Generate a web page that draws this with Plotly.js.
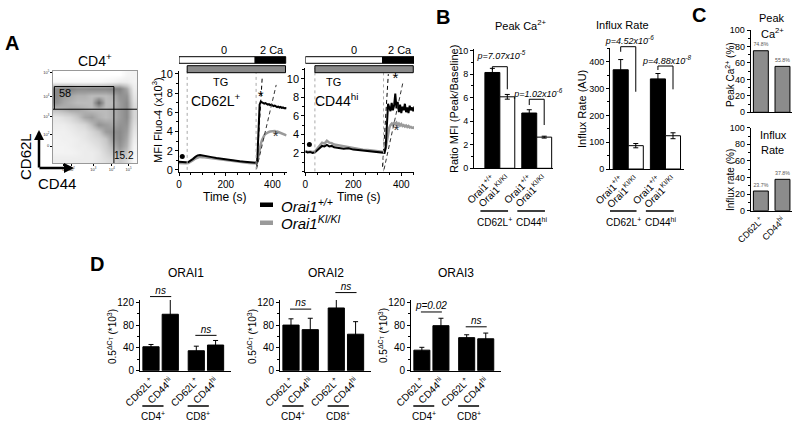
<!DOCTYPE html>
<html><head><meta charset="utf-8">
<script src="https://cdn.plot.ly/plotly-3.0.1.min.js"></script>
<style>html,body{margin:0;padding:0;background:#fff}#chart{width:800px;height:425px}</style>
</head><body><div id="chart"></div>
<script>
// ---------------- DATA ----------------
// Panel A: flow density (gray levels, rows top->bottom)
const flowZ = [
 [0,0,0,0,0,0,0,0,0,0,0.08,0.1],
 [0.05,0.05,0.05,0.05,0.05,0.05,0.05,0.08,0.1,0.15,0.15,0.1],
 [0.7,0.75,0.75,0.7,0.7,0.72,0.72,0.72,0.75,0.75,0.55,0.15],
 [0.7,0.6,0.55,0.5,0.5,0.45,0.45,0.45,0.5,0.65,0.65,0.2],
 [0.65,0.55,0.5,0.45,0.45,0.45,0.9,0.45,0.45,0.6,0.7,0.25],
 [0.45,0.5,0.55,0.55,0.5,0.45,0.45,0.45,0.5,0.6,0.7,0.3],
 [0.2,0.25,0.3,0.4,0.55,0.6,0.5,0.45,0.5,0.6,0.7,0.3],
 [0.15,0.15,0.2,0.25,0.3,0.45,0.65,0.6,0.55,0.65,0.65,0.25],
 [0.12,0.12,0.15,0.2,0.22,0.3,0.4,0.6,0.65,0.7,0.6,0.2],
 [0.1,0.12,0.12,0.15,0.2,0.25,0.3,0.4,0.6,0.7,0.55,0.15],
 [0.1,0.1,0.12,0.15,0.15,0.2,0.25,0.35,0.5,0.65,0.5,0.1],
 [0.1,0.1,0.1,0.12,0.15,0.15,0.2,0.3,0.4,0.55,0.4,0.08],
 [0.15,0.15,0.15,0.15,0.15,0.15,0.2,0.25,0.3,0.4,0.3,0.05]
];
const flowGateCD44 = 8.2, flowGateCD62L = 4.9, flowGateTop = 1.7, flowGateLeft = -0.3;
const flowPct = ['58', '15.2'];
const flowXTickVals = [0.97, 2.17, 5.26, 7.9, 10.3];
const flowXTickText = ['0','10<sup>2</sup>','10<sup>3</sup>','10<sup>4</sup>','10<sup>5</sup>'];
const flowYTickVals = [10.1, 8.5, 5.9, 3.1, -0.3];
const flowYTickText = ['0','10<sup>2</sup>','10<sup>3</sup>','10<sup>4</sup>','10<sup>5</sup>'];

// Panel A: Fluo-4 traces (time in s, MFI x10^3)
const timeS = [0,10,20,30,40,50,60,70,80,90,100,110,120,140,160,180,200,220,240,260,280,300,320,330,
  335,340,345,350,355,360,365,370,375,380,385,390,395,400,405,410,415,420,425,430,435,440,445,450,455,460];
const cd62lWT = [0.85,0.82,0.8,0.8,0.82,0.95,1.15,1.35,1.5,1.55,1.52,1.47,1.42,
  1.33,1.24,1.16,1.08,1.01,0.95,0.9,0.85,0.8,0.76,0.74,
  0.95,4.6,6.8,7.1,7.0,6.95,6.9,6.95,6.85,6.8,6.85,6.75,6.8,6.7,6.65,6.7,6.6,6.55,6.6,6.5,6.55,6.45,6.5,6.42,6.45,6.4];
const cd62lKI = [0.72,0.7,0.7,0.7,0.72,0.82,1.0,1.18,1.3,1.35,1.33,1.3,1.26,
  1.18,1.1,1.03,0.97,0.91,0.86,0.81,0.77,0.73,0.7,0.68,
  0.8,1.6,2.2,2.7,3.1,3.4,3.6,3.75,3.85,3.9,3.95,4.0,4.0,4.05,4.0,4.05,3.95,4.0,3.95,3.9,3.9,3.85,3.8,3.75,3.7,3.6];
const cd44WT = [2.15,2.05,2.1,2.0,2.05,2.3,2.55,2.75,2.7,2.85,2.7,2.75,2.6,
  2.55,2.45,2.5,2.35,2.3,2.25,2.2,2.15,2.1,2.05,2.0,
  2.6,5.6,7.3,6.9,6.5,7.4,6.6,7.1,8.4,6.8,7.5,6.4,7.2,6.3,7.0,6.6,7.3,6.4,6.9,6.3,7.1,6.6,6.9,6.5,7.0,6.7];
const cd44KI = [2.2,2.1,2.15,2.1,2.15,2.5,2.8,3.1,3.0,3.3,3.1,3.05,2.9,
  2.8,2.7,2.6,2.5,2.45,2.35,2.3,2.25,2.2,2.15,2.1,
  2.5,3.4,4.2,4.7,5.0,5.15,5.0,5.3,5.1,5.25,5.0,5.15,4.95,5.1,4.9,5.0,4.85,4.95,4.8,4.9,4.75,4.8,4.7,4.75,4.65,4.7];
// influx-rate fit lines [t0,t1],[y0,y1]
const fit62WT_t = [333, 356], fit62WT_y = [0.35, 9.55];
const fit62KI_t = [332, 416], fit62KI_y = [0.1, 8.85];
const fit44WT_t = [322, 346], fit44WT_y = [0.5, 10.5];
const fit44KI_t = [328, 406], fit44KI_y = [0.2, 9.5];
const dot62 = [14, 1.4], dot44 = [17, 2.9];
const star62_t = [350, 414], star62_y = [7.6, 3.4];
const star44_t = [376, 380], star44_y = [9.9, 4.3];
// solution bars: [0 Ca start, 2 Ca start, end], TG [start, end]
const sol62 = [0, 326, 457], tg62 = [35, 456];
const sol44 = [0, 322, 453], tg44 = [40, 450];
const solLabels = ['0', '2 Ca'];
const legendNames = ['<i>Orai1<sup>+/+</sup></i>', '<i>Orai1<sup>KI/KI</sup></i>'];

// Panel B
const genoLabels = ['Orai1<sup>+/+</sup>','Orai1<sup>KI/KI</sup>','Orai1<sup>+/+</sup>','Orai1<sup>KI/KI</sup>'];
const subsetLabels = ['CD62L<sup>+</sup>', 'CD44<sup>hi</sup>'];
const peakRatio = [8.15, 6.08, 4.7, 2.65];
const peakErr = [0.35, 0.2, 0.28, 0.08];
const influxRate = [370, 87, 336, 124];
const influxErr = [38, 8, 20, 11];
const peakP = ['p=7.07x10<sup>-5</sup>', 'p=1.02x10<sup>-6</sup>'];
const influxP = ['p=4.52x10<sup>-6</sup>', 'p=4.88x10<sup>-8</sup>'];
// bracket levels [top, left leg bottom, right leg bottom]
const peakBrk = [[8.64, 8.36, 6.72], [5.87, 5.38, 3.68]];
const influxBrk = [[456, 437, 288], [384, 369, 297]];

// Panel C
const cCats = ['CD62L<sup>+</sup>', 'CD44<sup>hi</sup>'];
const cPeak = [74.8, 55.8];
const cInflux = [23.7, 37.8];

// Panel D
const dCats = ['CD62L<sup>+</sup>','CD44<sup>hi</sup>','CD62L<sup>+</sup>','CD44<sup>hi</sup>'];
const dGroups = ['CD4<sup>+</sup>', 'CD8<sup>+</sup>'];
const orai1 = [42, 99, 35, 45], orai1Err = [4, 27, 8, 8];
const orai2 = [80, 72, 110, 64], orai2Err = [11, 20, 19, 22];
const orai3 = [36, 79, 58, 56], orai3Err = [5, 13, 5, 10];
const orai1Sig = [['ns', 130], ['ns', 62]];
const orai2Sig = [['ns', 108], ['ns', 137]];
const orai3Sig = [['p=0.02', 103], ['ns', 77]];

// ---------------- HELPERS ----------------
const F = 'Liberation Sans, Arial, Helvetica, sans-serif';
const W = 800, H = 425;
const PX = x => x / W, PY = y => 1 - y / H;
const xd = (a, b) => [PX(a), PX(b)];
const yd = (top, bot) => [PY(bot), PY(top)];
function ax(o) {
  return Object.assign({showline:true, linecolor:'#000', linewidth:1, ticks:'outside', ticklen:3,
    tickwidth:1, tickcolor:'#000', showgrid:false, zeroline:false, fixedrange:true,
    tickfont:{family:F, size:10, color:'#000'}}, o);
}
// invisible y axis sharing the scale of a visible one but reaching higher (for brackets / labels above the plot)
function extAxis(n, topPx, botPx, rangeTop, extTopPx) {
  const id = n + 10;
  layout['yaxis'+id] = {domain:yd(extTopPx, botPx), range:[0, rangeTop * (botPx - extTopPx) / (botPx - topPx)],
    visible:false, anchor:'x'+n, fixedrange:true, showgrid:false, zeroline:false};
  return 'y'+id;
}
const traces = [], shapes = [], annotations = [];
function note(o) {
  annotations.push(Object.assign({showarrow:false, xanchor:'center', yanchor:'middle'}, o,
    {font:Object.assign({family:F, size:11, color:'#000'}, o.font || {})}));
}
function ann(x, y, text, size, o) {
  note(Object.assign({xref:'paper', yref:'paper', x:PX(x), y:PY(y), text:text, font:{size:size}}, o || {}));
}

const layout = {width:W, height:H, margin:{l:0,r:0,t:0,b:0}, paper_bgcolor:'#fff', plot_bgcolor:'rgba(0,0,0,0)',
  showlegend:false, font:{family:F, color:'#000'}, bargap:0};

// ---- Flow plot ----
traces.push({type:'heatmap', z:flowZ, xaxis:'x', yaxis:'y', showscale:false, zsmooth:'best', zmin:0, zmax:1,
  colorscale:[[0,'#ffffff'],[0.2,'#e6e6e6'],[0.4,'#c6c6c6'],[0.6,'#9c9c9c'],[0.8,'#787878'],[1,'#555555']]});
layout.xaxis = ax({domain:xd(53,137), range:[-0.5,11.5], anchor:'y', linecolor:'#999', mirror:true, ticklen:2,
  tickvals:flowXTickVals, ticktext:flowXTickText, tickfont:{family:F,size:4,color:'#333'}});
layout.yaxis = ax({domain:yd(71,163), range:[12.5,-0.5], anchor:'x', linecolor:'#999', mirror:true, ticklen:2,
  tickvals:flowYTickVals, ticktext:flowYTickText, tickfont:{family:F,size:4,color:'#333'}});
const gl = {color:'#000', width:1};
shapes.push({type:'line', xref:'x', yref:'y', x0:-0.5, x1:11.5, y0:flowGateCD62L, y1:flowGateCD62L, line:gl});
shapes.push({type:'line', xref:'x', yref:'y', x0:flowGateCD44, x1:flowGateCD44, y0:flowGateTop, y1:12.5, line:gl});
shapes.push({type:'line', xref:'x', yref:'y', x0:flowGateLeft, x1:flowGateCD44, y0:flowGateTop, y1:flowGateTop, line:gl});
shapes.push({type:'line', xref:'x', yref:'y', x0:flowGateLeft, x1:flowGateLeft, y0:flowGateTop, y1:flowGateCD62L, line:gl});
note({xref:'x', yref:'y', x:0.1, y:2.6, text:flowPct[0], xanchor:'left', font:{size:11}});
note({xref:'x', yref:'y', x:11.3, y:11.4, text:flowPct[1], xanchor:'right', font:{size:10}});
ann(95, 60, 'CD4<sup>+</sup>', 14);
annotations.push({xref:'paper', yref:'paper', x:PX(39), y:PY(130), ax:PX(39), ay:PY(169), axref:'paper', ayref:'paper',
  text:'', showarrow:true, arrowhead:2, arrowsize:0.8, arrowwidth:2.5, arrowcolor:'#000'});
annotations.push({xref:'paper', yref:'paper', x:PX(74), y:PY(168), ax:PX(38), ay:PY(168), axref:'paper', ayref:'paper',
  text:'', showarrow:true, arrowhead:2, arrowsize:0.8, arrowwidth:2.5, arrowcolor:'#000'});
ann(25, 157, 'CD62L', 15, {textangle:-90});
ann(57, 184, 'CD44', 15);
ann(12, 43, '<b>A</b>', 20);

// ---- Fluo-4 trace plots ----
function tracePlot(n, xdom, ydomv, yrange, xrange, wt, ki, fitWT_t, fitWT_y, fitKI_t, fitKI_y, dot, st, sy, sol, tg,
                   label, showY0, lbl) {
  const xa = 'x'+n, ya = 'y'+n;
  layout['xaxis'+n] = ax({domain:xdom, range:xrange, anchor:ya, tickvals:[0,200,400], tickfont:{family:F,size:10},
    minor:{ticks:'outside', ticklen:2, tickcolor:'#000', dtick:50, tick0:0}});
  layout['yaxis'+n] = ax({domain:ydomv, range:yrange, anchor:xa, tickvals: showY0 ? [0,2,4,6,8,10] : [2,4,6,8,10],
    tickfont:{family:F,size:11}, minor:{ticks:'outside', ticklen:2, tickcolor:'#000', dtick:1, tick0:0}});
  [tg[0], sol[1]+4].forEach(t => shapes.push({type:'line', xref:xa, yref:ya, x0:t, x1:t, y0:0, y1:yrange[1],
    line:{color:'#aaa', width:1, dash:'dot'}}));
  traces.push({type:'scatter', mode:'lines', x:timeS, y:ki, xaxis:xa, yaxis:ya, line:{color:'#9a9a9a', width:2.5}});
  traces.push({type:'scatter', mode:'lines', x:timeS, y:wt, xaxis:xa, yaxis:ya, line:{color:'#000', width:2}});
  traces.push({type:'scatter', mode:'lines', x:fitWT_t, y:fitWT_y, xaxis:xa, yaxis:ya, line:{color:'#000', width:1, dash:'4px,3px'}});
  traces.push({type:'scatter', mode:'lines', x:fitKI_t, y:fitKI_y, xaxis:xa, yaxis:ya, line:{color:'#333', width:1, dash:'4px,3px'}});
  traces.push({type:'scatter', mode:'markers', x:[dot[0]], y:[dot[1]], xaxis:xa, yaxis:ya, marker:{color:'#000', size:5}});
  traces.push({type:'scatter', mode:'text', x:st, y:sy, text:['*','*'], xaxis:xa, yaxis:ya, cliponaxis:false,
    textposition:'middle center', textfont:{family:F, size:15, color:['#000','#333']}});
  shapes.push({type:'rect', xref:xa, yref:'paper', x0:sol[0], x1:sol[1], y0:PY(63.3), y1:PY(56.7), fillcolor:'#fff', line:{color:'#000', width:1}});
  shapes.push({type:'rect', xref:xa, yref:'paper', x0:sol[1], x1:sol[2], y0:PY(63.3), y1:PY(56.7), fillcolor:'#000', line:{color:'#000', width:1}});
  shapes.push({type:'rect', xref:xa, yref:'paper', x0:tg[0], x1:tg[1], y0:PY(72.7), y1:PY(65.7), fillcolor:'#8a8a8a', line:{color:'#000', width:1}});
  note({xref:xa, yref:'paper', x:lbl.zero, y:PY(50), text:solLabels[0]});
  note({xref:xa, yref:'paper', x:(sol[1]+sol[2])/2 + 8, y:PY(50), text:solLabels[1]});
  note({xref:xa, yref:'paper', x:lbl.tg, y:PY(82), text:'TG'});
  note({xref:xa, yref:'paper', x:lbl.cell, y:PY(100), text:label, font:{size:14}});
  note({xref:xa, yref:'paper', x:lbl.time, y:PY(197), text:'Time (s)', font:{size:12}});
}
tracePlot(2, xd(179,286.7), yd(71,172.3), [-0.25,10.3], [0,461], cd62lWT, cd62lKI, fit62WT_t, fit62WT_y, fit62KI_t, fit62KI_y,
  dot62, star62_t, star62_y, sol62, tg62, 'CD62L<sup>+</sup>', true, {zero:192, tg:176, cell:160, time:195});
tracePlot(3, xd(305.3,414), yd(67.7,172.3), [-0.1,11.2], [0,453], cd44WT, cd44KI, fit44WT_t, fit44WT_y, fit44KI_t, fit44KI_y,
  dot44, star44_t, star44_y, sol44, tg44, 'CD44<sup>hi</sup>', false, {zero:205, tg:118, cell:132, time:222});
ann(157, 120, 'MFI Fluo-4 (x10<sup>3</sup>)', 11, {textangle:-90});
shapes.push({type:'rect', xref:'paper', yref:'paper', x0:PX(260), x1:PX(273), y0:PY(207), y1:PY(202.5), fillcolor:'#000', line:{width:0}});
shapes.push({type:'rect', xref:'paper', yref:'paper', x0:PX(260), x1:PX(273), y0:PY(225), y1:PY(220.5), fillcolor:'#9a9a9a', line:{width:0}});
ann(279, 205, legendNames[0], 15, {xanchor:'left'});
ann(279, 223, legendNames[1], 15, {xanchor:'left'});

// ---- Panel B ----
const gapB = 0.47;
const posB = genoLabels.map((g, i) => i + (i >= 2 ? gapB : 0));
const barColB = ['#000','#fff','#000','#fff'];
function bPlot(n, xdomPx, yTop, yBot, rangeTop, xrange, vals, errs, dtick, mdtick, title, ytitle, ytx, pLabels, brk, pY, titleX) {
  const xa = 'x'+n, ya = 'y'+n;
  layout['xaxis'+n] = ax({domain:xd(xdomPx[0], xdomPx[1]), range:xrange, anchor:ya, tickvals:posB, ticktext:genoLabels, tickangle:-45,
    ticks:'', tickfont:{family:F,size:10}});
  layout['yaxis'+n] = ax({domain:yd(yTop, yBot), range:[0, rangeTop], anchor:xa, dtick:dtick, tick0:0, tickfont:{family:F,size:9},
    minor:{ticks:'outside', ticklen:2, tickcolor:'#000', dtick:mdtick, tick0:0}});
  const ye = extAxis(n, yTop, yBot, rangeTop, 30);
  traces.push({type:'bar', x:posB, y:vals, width:1, xaxis:xa, yaxis:ya, cliponaxis:false,
    marker:{color:barColB, line:{color:'#000', width:1}},
    error_y:{type:'data', array:errs, color:'#000', thickness:1, width:2.5}});
  [[0,1],[2,3]].forEach((pr, k) => {
    const a = posB[pr[0]], b = posB[pr[1]], L = brk[k];
    traces.push({type:'scatter', mode:'lines', x:[a, a, b, b], y:[L[1], L[0], L[0], L[2]], xaxis:xa, yaxis:ye,
      cliponaxis:false, line:{color:'#000', width:1}});
    traces.push({type:'scatter', mode:'text', x:[(a+b)/2 + 0.1], y:[pY[k]], text:['<i>'+pLabels[k]+'</i>'], xaxis:xa, yaxis:ye,
      cliponaxis:false, textposition:'middle center', textfont:{family:F, size:9}});
  });
  [[0,1],[2,3]].forEach((pr, k) => {
    const a = posB[pr[0]] - 0.8, b = posB[pr[1]] + 0.05;
    shapes.push({type:'line', xref:xa, yref:'paper', x0:a, x1:b, y0:PY(211), y1:PY(211), line:{color:'#000', width:1.5}});
    note({xref:xa, yref:'paper', x:(a+b)/2 + 0.05, y:PY(222), text:subsetLabels[k], font:{size:10}});
  });
  ann(titleX, 25, title, 11);
  ann(ytx, 109, ytitle, 11, {textangle:-90});
}
bPlot(4, [474,553], 49.3, 168.3, 10.12, [-1.23,4.06], peakRatio, peakErr, 2, 1, 'Peak Ca<sup>2+</sup>',
  'Ratio MFI (Peak/Baseline)', 454, peakP, peakBrk, [9.5, 6.25], 520);
bPlot(5, [610,684], 48.3, 169, 450, [-0.71,4.2], influxRate, influxErr, 100, 50, 'Influx Rate',
  'Influx Rate (AU)', 582, influxP, influxBrk, [475, 400], 622);
ann(443.5, 17, '<b>B</b>', 20);

// ---- Panel C ----
function cPlot(n, ydomv, vals, showX) {
  const xa = 'x'+n, ya = 'y'+n;
  layout['xaxis'+n] = ax({domain:xd(750.7,792), range:[-0.47,1.44], anchor:ya, tickvals:[0,1], ticktext:cCats,
    showticklabels:showX, tickangle:-45, ticks:'', tickfont:{family:F,size:9}});
  layout['yaxis'+n] = ax({domain:ydomv, range:[0,100], anchor:xa, dtick:20, tick0:0, tickfont:{family:F,size:9},
    minor:{ticks:'outside', ticklen:2, tickcolor:'#000', dtick:10, tick0:0}});
  traces.push({type:'bar', x:[0,1], y:vals, width:0.69, xaxis:xa, yaxis:ya, cliponaxis:false,
    marker:{color:'#8c8c8c', line:{color:'#000', width:1}},
    text:vals.map(v => v.toFixed(1) + '%'), textposition:'outside', textfont:{family:F, size:8, color:'#555'}});
}
cPlot(6, yd(30,112.3), cPeak, false);
cPlot(7, yd(127.7,210.7), cInflux, true);
ann(772, 18, 'Peak', 11); ann(772, 33, 'Ca<sup>2+</sup>', 11);
ann(773, 135, 'Influx', 11); ann(772, 150, 'Rate', 11);
ann(730, 75, 'Peak Ca<sup>2+</sup> (%)', 10, {textangle:-90});
ann(730, 180, 'Influx rate (%)', 10, {textangle:-90});
ann(699, 15, '<b>C</b>', 20);

// ---- Panel D ----
const posD = dCats.map((c, i) => i + (i >= 2 ? 0.35 : 0));
function dPlot(n, xdomPx, vals, errs, sig, title) {
  const xa = 'x'+n, ya = 'y'+n;
  layout['xaxis'+n] = ax({domain:xd(xdomPx[0], xdomPx[1]), range:[-0.57,4.15], anchor:ya, tickvals:posD, ticktext:dCats, tickangle:-45,
    ticks:'', tickfont:{family:F,size:10}});
  layout['yaxis'+n] = ax({domain:yd(300,370.7), range:[0,124], anchor:xa, tickvals:[0,40,80,120], tickfont:{family:F,size:10},
    minor:{ticks:'outside', ticklen:2, tickcolor:'#000', dtick:20, tick0:0}});
  const ye = extAxis(n, 300, 370.7, 124, 270);
  traces.push({type:'bar', x:posD, y:vals, width:0.84, xaxis:xa, yaxis:ya, cliponaxis:false,
    marker:{color:'#000', line:{color:'#000', width:1}},
    error_y:{type:'data', array:errs, color:'#000', thickness:1, width:2.5}});
  [[0,1],[2,3]].forEach((pr, k) => {
    const a = posD[pr[0]], b = posD[pr[1]];
    traces.push({type:'scatter', mode:'lines', x:[a - 0.05, b + 0.05], y:[sig[k][1], sig[k][1]], xaxis:xa, yaxis:ye,
      cliponaxis:false, line:{color:'#000', width:1}});
    traces.push({type:'scatter', mode:'text', x:[(a+b)/2], y:[sig[k][1] + 9], text:['<i>'+sig[k][0]+'</i>'], xaxis:xa, yaxis:ye,
      cliponaxis:false, textposition:'middle center', textfont:{family:F, size:10}});
    const u0 = a - 0.45, u1 = b - 0.35;
    shapes.push({type:'line', xref:xa, yref:'paper', x0:u0, x1:u1, y0:PY(406), y1:PY(406), line:{color:'#000', width:1.5}});
    note({xref:xa, yref:'paper', x:(u0+u1)/2, y:PY(416), text:dGroups[k], font:{size:10}});
  });
  const d = layout['xaxis'+n].domain;
  note({xref:'paper', yref:'paper', x:(d[0]+d[1])/2, y:PY(273), text:title, font:{size:12}});
  note({xref:'paper', yref:'paper', x:d[0] - PX(28), y:PY(336), text:'0.5<sup>ΔC<sub>T</sub></sup> (*10<sup>3</sup>)',
    textangle:-90, font:{size:10}});
}
dPlot(8, [140,231], orai1, orai1Err, orai1Sig, 'ORAI1');
dPlot(9, [280,371], orai2, orai2Err, orai2Sig, 'ORAI2');
dPlot(10, [411,501], orai3, orai3Err, orai3Sig, 'ORAI3');
ann(97, 264, '<b>D</b>', 20);

layout.shapes = shapes;
layout.annotations = annotations;
Plotly.newPlot('chart', traces, layout, {staticPlot:true, displayModeBar:false});
</script></body></html>
